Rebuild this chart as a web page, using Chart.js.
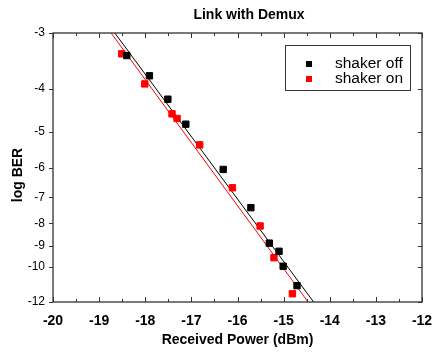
<!doctype html>
<html>
<head>
<meta charset="utf-8"/>
<title>Link with Demux</title>
<style>
  body { margin: 0; background: #fff; }
  #wrap { position: relative; width: 435px; height: 354px; }
</style>
</head>
<body>
<div id="wrap"><canvas id="myChart" width="435" height="354"></canvas></div>
<script src="https://cdn.jsdelivr.net/npm/chart.js@4.4.0/dist/chart.umd.min.js"></script>
<script>
// data
var offPower  = [-18.40, -17.91, -17.51, -17.12, -16.31, -15.71, -15.31, -15.10, -15.01, -14.71];
var offLogBer = [-3.37, -3.74, -4.22, -4.80, -6.06, -7.38, -8.86, -9.24, -9.98, -11.03];
var onPower   = [-18.51, -18.01, -17.42, -17.31, -16.82, -16.11, -15.51, -15.21, -14.81];
var onLogBer  = [-3.34, -3.90, -4.55, -4.66, -5.34, -6.66, -8.11, -9.55, -11.50];
// fitted lines, endpoints at top and bottom of the plot
var fitLogBer = [-3, -12];
var offFitPower = [-18.66, -14.35];
var onFitPower  = [-18.74, -14.47];
var xTicks = [-20, -19, -18, -17, -16, -15, -14, -13, -12];
var yTicks = [-3, -4, -5, -6, -7, -8, -9, -10, -12];

var FONT = "'Liberation Sans', Arial, sans-serif";

// BER axis: log BER shown on a log(-log) scale
function t(v) { return -Math.log10(-v); }
function pts(xs, ys) { return xs.map(function (x, i) { return { x: x, y: t(ys[i]) }; }); }

var framePlugin = {
  id: 'frame',
  afterDraw: function (chart) {
    var ctx = chart.ctx, a = chart.chartArea, x = chart.scales.x, y = chart.scales.y;
    ctx.save();
    ctx.strokeStyle = '#333';
    ctx.lineWidth = 1.3;
    ctx.strokeRect(a.left, a.top, a.right - a.left, a.bottom - a.top);
    ctx.lineWidth = 1;
    ctx.beginPath();
    for (var v = -20; v <= -12; v += 0.5) {
      var px = Math.round(x.getPixelForValue(v)) + 0.5;
      var len = (v % 1 === 0) ? 5 : 3;
      ctx.moveTo(px, a.bottom); ctx.lineTo(px, a.bottom - len);
      ctx.moveTo(px, a.top); ctx.lineTo(px, a.top + len);
    }
    yTicks.forEach(function (v) {
      var py = Math.round(y.getPixelForValue(t(v))) + 0.5;
      ctx.moveTo(a.left - 4, py); ctx.lineTo(a.left, py);
      ctx.moveTo(a.right - 4, py); ctx.lineTo(a.right, py);
    });
    ctx.stroke();

    // title
    ctx.fillStyle = '#000';
    ctx.font = 'bold 14px ' + FONT;
    ctx.textAlign = 'center';
    ctx.textBaseline = 'middle';
    ctx.fillText('Link with Demux', 249, 15);

    // y title
    ctx.save();
    ctx.translate(18, 175);
    ctx.rotate(-Math.PI / 2);
    ctx.fillText('log BER', 0, 0);
    ctx.restore();

    // legend
    ctx.strokeStyle = '#333';
    ctx.lineWidth = 1;
    ctx.strokeRect(285.5, 45.5, 125, 45);
    ctx.fillStyle = '#000';
    ctx.fillRect(306, 61, 6, 6);
    ctx.fillStyle = '#ff0000';
    ctx.fillRect(306, 76, 6, 6);
    ctx.fillStyle = '#000';
    ctx.font = '15.5px ' + FONT;
    ctx.textAlign = 'left';
    ctx.fillText('shaker off', 335, 64);
    ctx.fillText('shaker on', 335, 79);
    ctx.restore();
  }
};

var config = {
  type: 'scatter',
  data: {
    datasets: [
      { label: 'shaker off', data: pts(offPower, offLogBer), pointStyle: 'rect', pointRadius: 4.5,
        backgroundColor: '#000', borderColor: '#000', borderWidth: 1 },
      { label: 'shaker on', data: pts(onPower, onLogBer), pointStyle: 'rect', pointRadius: 4.5,
        backgroundColor: '#ff0000', borderColor: '#ff0000', borderWidth: 1 },
      { label: 'fit off', data: pts(offFitPower, fitLogBer), showLine: true, pointRadius: 0,
        borderColor: '#000', borderWidth: 1 },
      { label: 'fit on', data: pts(onFitPower, fitLogBer), showLine: true, pointRadius: 0,
        borderColor: '#ff0000', borderWidth: 1 }
    ]
  },
  options: {
    responsive: false,
    animation: false,
    layout: { padding: { top: 33, right: 13, left: 0, bottom: 0 } },
    plugins: { legend: { display: false }, title: { display: false }, tooltip: { enabled: false } },
    scales: {
      x: {
        type: 'linear', min: -20, max: -12,
        grid: { display: false }, border: { display: false },
        afterBuildTicks: function (s) { s.ticks = xTicks.map(function (v) { return { value: v }; }); },
        afterFit: function (s) { s.height = 52; s.paddingLeft = 0; s.paddingRight = 0; },
        ticks: { color: '#000', padding: 3, autoSkip: false, maxRotation: 0,
                 font: { family: FONT, size: 14, weight: 'bold' } },
        title: { display: true, text: 'Received Power (dBm)', color: '#000', padding: { top: 4, bottom: 5 },
                 font: { family: FONT, size: 14, weight: 'bold' } }
      },
      y: {
        type: 'linear', min: t(-12), max: t(-3),
        grid: { display: false }, border: { display: false },
        afterBuildTicks: function (s) { s.ticks = yTicks.map(function (v) { return { value: t(v) }; }); },
        afterFit: function (s) { s.width = 53; s.paddingTop = 0; s.paddingBottom = 0; },
        ticks: { color: '#000', padding: 0, autoSkip: false,
                 font: { family: FONT, size: 12 },
                 callback: function (v) { return String(Math.round(-Math.pow(10, -v))); } }
      }
    }
  },
  plugins: [framePlugin]
};

new Chart(document.getElementById('myChart'), config);
</script>
</body>
</html>
